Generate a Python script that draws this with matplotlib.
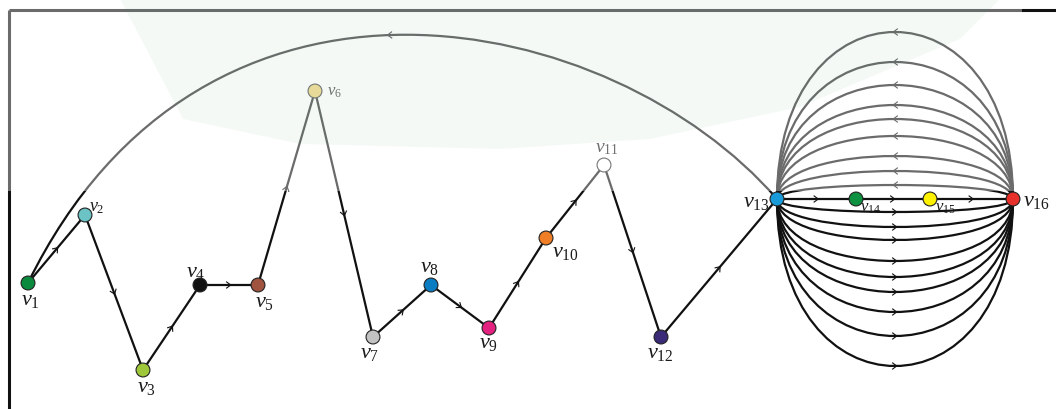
import numpy as np
import matplotlib
matplotlib.use("Agg")
import matplotlib.pyplot as plt
from matplotlib.path import Path
from matplotlib.patches import PathPatch, Polygon, Rectangle

plt.rcParams['mathtext.fontset'] = 'custom'
plt.rcParams['mathtext.it'] = 'Liberation Serif:italic'
plt.rcParams['mathtext.rm'] = 'Liberation Serif'

# ---- data (pixel-like layout coordinates) ----
node_names = ['v1', 'v2', 'v3', 'v4', 'v5', 'v6', 'v7', 'v8', 'v9', 'v10',
              'v11', 'v12', 'v13', 'v14', 'v15', 'v16']
node_x = [28, 85, 143, 200, 258, 315, 373, 431, 489, 546, 604, 661, 777, 856, 930, 1013]
node_y = [284, 216, 371, 286, 286, 92, 338, 286, 329, 239, 166, 338, 200, 200, 200, 200]
node_colors = ['#0b8a3e', '#6cc3c6', '#9fc73a', '#111111', '#a0533f', '#eacb62',
               '#c2c2c2', '#0a7dc2', '#e3227f', '#f07e26', '#ffffff', '#3b2a78',
               '#1a9bd9', '#0e9140', '#fff200', '#e8302a']
label_x = [30, 97, 146, 196, 265, 334, 370, 430, 488, 565, 607, 660, 756, 870, 945, 1036]
label_y = [300, 207, 387, 272, 302, 91, 353, 267, 343, 252, 148, 353, 202, 207, 207, 201]
label_size = [16, 13, 16, 16, 16, 12, 16, 16, 16, 16, 14, 16, 16, 12, 12, 16]

# directed path edges (1-based node numbers)
path_edges = [(1, 2), (2, 3), (3, 4), (4, 5), (5, 6), (6, 7), (7, 8), (8, 9),
              (9, 10), (10, 11), (11, 12), (12, 13), (13, 14), (14, 15), (15, 16)]
# apex heights of the multi-arcs between v13 and v16
upper_apex = [33, 63, 86, 106, 120, 137, 157, 172, 186]   # directed v16 -> v13
lower_apex = [213, 228, 241, 262, 278, 293, 313, 337, 367]  # directed v13 -> v16
# long arc v13 -> v1 (cubic control points)
big_arc_ctrl = [(612, 10), (204, -76)]

W, H = 1056, 410
fig = plt.figure(figsize=(W / 100, H / 100), dpi=100)
ax = fig.add_axes([0, 0, 1, 1])
ax.set_xlim(0, W)
ax.set_ylim(H, 0)
ax.axis('off')

LW = 1.6
EC = '#111111'


def chevron(px, py, dx, dy, size=3.4):
    n = np.hypot(dx, dy)
    ux, uy = dx / n, dy / n
    vx, vy = -uy, ux
    tip = (px + ux * size * 0.5, py + uy * size * 0.5)
    a = (tip[0] - ux * size * 1.2 + vx * size * 0.9, tip[1] - uy * size * 1.2 + vy * size * 0.9)
    b = (tip[0] - ux * size * 1.2 - vx * size * 0.9, tip[1] - uy * size * 1.2 - vy * size * 0.9)
    ax.plot([a[0], tip[0], b[0]], [a[1], tip[1], b[1]], color=EC, lw=0.8, zorder=3,
            solid_joinstyle='miter')


def cubic(p0, p1, p2, p3, t):
    p0, p1, p2, p3 = map(np.asarray, (p0, p1, p2, p3))
    pt = (1 - t) ** 3 * p0 + 3 * (1 - t) ** 2 * t * p1 + 3 * (1 - t) * t ** 2 * p2 + t ** 3 * p3
    d = 3 * (1 - t) ** 2 * (p1 - p0) + 6 * (1 - t) * t * (p2 - p1) + 3 * t ** 2 * (p3 - p2)
    return pt, d


def draw_cubic(p0, p1, p2, p3, tarrow=0.5):
    path = Path([p0, p1, p2, p3], [Path.MOVETO, Path.CURVE4, Path.CURVE4, Path.CURVE4])
    ax.add_patch(PathPatch(path, fc='none', ec=EC, lw=LW, zorder=2))
    pt, d = cubic(p0, p1, p2, p3, tarrow)
    chevron(pt[0], pt[1], d[0], d[1])


# straight edges
for a, b in path_edges:
    x0, y0 = node_x[a - 1], node_y[a - 1]
    x1, y1 = node_x[b - 1], node_y[b - 1]
    ax.plot([x0, x1], [y0, y1], color=EC, lw=LW, zorder=2, solid_capstyle='butt')
    chevron((x0 + x1) / 2, (y0 + y1) / 2, x1 - x0, y1 - y0)

# multi-arcs v13 <-> v16
s = (node_x[12], node_y[12])
e = (node_x[15], node_y[15])
for ap in upper_apex:
    cy = s[1] + 4.0 / 3.0 * (ap - s[1])
    draw_cubic(e, (e[0], cy), (s[0], cy), s)
for ap in lower_apex:
    cy = s[1] + 4.0 / 3.0 * (ap - s[1])
    draw_cubic(s, (s[0], cy), (e[0], cy), e)

# long arc v13 -> v1
v1 = (node_x[0], node_y[0])
draw_cubic(s, big_arc_ctrl[0], big_arc_ctrl[1], v1, tarrow=0.52)

# frame (top and left)
ax.plot([9, W], [11, 11], color=EC, lw=2.2, zorder=2, solid_capstyle='butt')
ax.plot([9, 9], [11, H], color=EC, lw=2.2, zorder=2, solid_capstyle='butt')

# nodes
ax.scatter(node_x, node_y, s=100, c=node_colors, edgecolors='#222222',
           linewidths=0.8, zorder=4)

# labels
for name, lx, ly, fs in zip(node_names, label_x, label_y, label_size):
    num = name[1:]
    ax.text(lx, ly, r'$\mathit{v}_{\mathrm{%s}}$' % num, fontsize=fs,
            ha='center', va='center', color='#1a1a1a', zorder=5)

# faint watermark wash over the upper region
ax.add_patch(Rectangle((0, 0), 1022, 192, fc='white', ec='none', alpha=0.38, zorder=6))
wm = Polygon([(120, 0), (183, 120), (300, 145), (500, 150), (650, 140),
              (800, 108), (960, 40), (1000, 0)], closed=True,
             fc='#2e9a5a', ec='none', alpha=0.05, zorder=6)
ax.add_patch(wm)

fig.savefig('out.png', dpi=100)
